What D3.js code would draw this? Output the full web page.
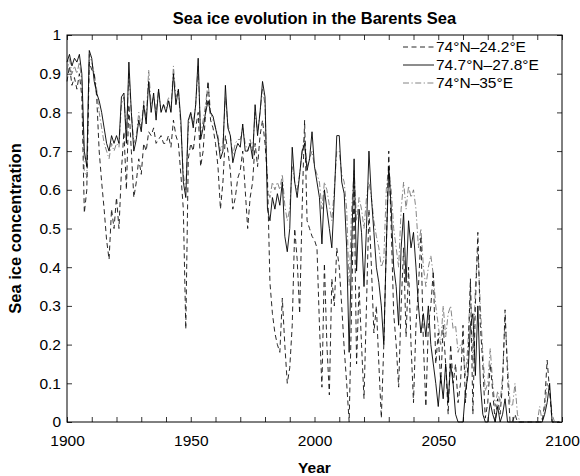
<!DOCTYPE html>
<html>
<head>
<meta charset="utf-8">
<script src="https://cdn.jsdelivr.net/npm/d3@7"></script>
<style>
  body { margin: 0; background: #fff; }
  text { font-family: "Liberation Sans", Arial, sans-serif; fill: #000; }
</style>
</head>
<body>
<div id="chart"></div>
<script>
// yearly values, 1900 .. 2099
const startYear = 1900;

const west = [ // 74°N–24.2°E (dashed)
  0.88, 0.92, 0.87, 0.89, 0.86, 0.90, 0.84, 0.54, 0.60, 0.93,
  0.91, 0.90, 0.84, 0.70, 0.62, 0.55, 0.47, 0.42, 0.55, 0.50,
  0.58, 0.50, 0.65, 0.75, 0.60, 0.82, 0.70, 0.58, 0.62, 0.68,
  0.64, 0.72, 0.70, 0.75, 0.74, 0.76, 0.72, 0.73, 0.74, 0.72,
  0.72, 0.74, 0.71, 0.78, 0.74, 0.72, 0.64, 0.55, 0.24, 0.68,
  0.72, 0.70, 0.76, 0.80, 0.66, 0.70, 0.80, 0.88, 0.78, 0.76,
  0.72, 0.66, 0.55, 0.62, 0.74, 0.70, 0.65, 0.55, 0.58, 0.63,
  0.65, 0.70, 0.60, 0.50, 0.58, 0.62, 0.72, 0.66, 0.74, 0.78,
  0.72, 0.63, 0.36, 0.28, 0.23, 0.20, 0.18, 0.32, 0.20, 0.10,
  0.14, 0.25, 0.50, 0.42, 0.28, 0.55, 0.78, 0.52, 0.50, 0.48,
  0.47, 0.45, 0.25, 0.09, 0.41, 0.20, 0.07, 0.37, 0.30, 0.45,
  0.40, 0.30, 0.19, 0.10, 0.00, 0.30, 0.61, 0.15, 0.35, 0.20,
  0.06, 0.30, 0.55, 0.40, 0.23, 0.30, 0.15, 0.01, 0.20, 0.45,
  0.70, 0.50, 0.28, 0.20, 0.09, 0.30, 0.45, 0.22, 0.40, 0.20,
  0.05, 0.25, 0.35, 0.48, 0.20, 0.04, 0.25, 0.30, 0.39, 0.15,
  0.23, 0.10, 0.25, 0.15, 0.02, 0.20, 0.10, 0.15, 0.05, 0.10,
  0.25, 0.05, 0.15, 0.37, 0.02, 0.30, 0.49, 0.25, 0.15, 0.01,
  0.05, 0.15, 0.08, 0.00, 0.06, 0.02, 0.10, 0.29, 0.12, 0.00,
  0.00, 0.02, 0.00, 0.00, 0.00, 0.00, 0.00, 0.00, 0.00, 0.00,
  0.00, 0.00, 0.00, 0.05, 0.16, 0.08, 0.00, 0.00, 0.00, 0.00
];

const middle = [ // 74.7°N–27.8°E (solid)
  0.93, 0.95, 0.92, 0.94, 0.93, 0.95, 0.90, 0.70, 0.66, 0.96,
  0.94, 0.88, 0.85, 0.83, 0.80, 0.76, 0.72, 0.70, 0.74, 0.72,
  0.74, 0.72, 0.84, 0.85, 0.72, 0.93, 0.80, 0.70, 0.73, 0.78,
  0.75, 0.82, 0.77, 0.88, 0.80, 0.85, 0.78, 0.86, 0.80, 0.82,
  0.80, 0.83, 0.80, 0.90, 0.82, 0.86, 0.78, 0.62, 0.58, 0.78,
  0.80, 0.76, 0.82, 0.94, 0.73, 0.76, 0.80, 0.83, 0.80, 0.79,
  0.76, 0.73, 0.68, 0.70, 0.87, 0.76, 0.74, 0.67, 0.70, 0.72,
  0.71, 0.77, 0.70, 0.70, 0.72, 0.68, 0.82, 0.74, 0.80, 0.88,
  0.84, 0.55, 0.52, 0.58, 0.55, 0.59, 0.56, 0.62, 0.48, 0.44,
  0.50, 0.71, 0.62, 0.58, 0.64, 0.70, 0.72, 0.65, 0.68, 0.75,
  0.66, 0.62, 0.58, 0.46, 0.60, 0.55, 0.50, 0.45, 0.58, 0.74,
  0.74, 0.62, 0.59, 0.45, 0.18, 0.45, 0.68, 0.39, 0.55, 0.49,
  0.35, 0.50, 0.70, 0.58, 0.49, 0.40, 0.36, 0.30, 0.20, 0.45,
  0.66, 0.55, 0.40, 0.35, 0.25, 0.45, 0.54, 0.36, 0.52, 0.45,
  0.49, 0.40, 0.30, 0.23, 0.28, 0.22, 0.30, 0.20, 0.15, 0.10,
  0.04, 0.12, 0.06, 0.15, 0.05, 0.15, 0.10, 0.02, 0.00, 0.00,
  0.00, 0.08, 0.12, 0.25, 0.28, 0.12, 0.30, 0.10, 0.02, 0.00,
  0.00, 0.05, 0.02, 0.00, 0.04, 0.00, 0.02, 0.06, 0.00, 0.00,
  0.00, 0.00, 0.00, 0.00, 0.00, 0.00, 0.00, 0.00, 0.00, 0.00,
  0.00, 0.00, 0.00, 0.02, 0.05, 0.10, 0.00, 0.00, 0.00, 0.00
];

const east = [ // 74°N–35°E (dash-dot)
  0.91, 0.94, 0.90, 0.92, 0.90, 0.93, 0.88, 0.65, 0.63, 0.95,
  0.93, 0.90, 0.86, 0.80, 0.76, 0.72, 0.70, 0.68, 0.72, 0.70,
  0.72, 0.71, 0.82, 0.84, 0.74, 0.90, 0.80, 0.72, 0.74, 0.80,
  0.76, 0.83, 0.78, 0.91, 0.82, 0.84, 0.80, 0.86, 0.80, 0.82,
  0.81, 0.84, 0.80, 0.92, 0.84, 0.86, 0.76, 0.64, 0.60, 0.76,
  0.80, 0.77, 0.82, 0.92, 0.74, 0.78, 0.82, 0.88, 0.80, 0.78,
  0.76, 0.74, 0.70, 0.72, 0.84, 0.77, 0.74, 0.69, 0.72, 0.73,
  0.73, 0.76, 0.72, 0.70, 0.73, 0.70, 0.80, 0.75, 0.80, 0.86,
  0.82, 0.60, 0.58, 0.62, 0.60, 0.62, 0.60, 0.64, 0.56, 0.52,
  0.55, 0.66, 0.62, 0.60, 0.64, 0.70, 0.74, 0.66, 0.68, 0.70,
  0.66, 0.64, 0.62, 0.55, 0.62, 0.60, 0.56, 0.52, 0.60, 0.70,
  0.70, 0.64, 0.62, 0.55, 0.35, 0.55, 0.65, 0.52, 0.58, 0.55,
  0.50, 0.58, 0.62, 0.58, 0.52, 0.48, 0.45, 0.40, 0.42, 0.60,
  0.66, 0.60, 0.50, 0.45, 0.40, 0.55, 0.62, 0.55, 0.61, 0.58,
  0.60, 0.55, 0.45, 0.50, 0.40, 0.35, 0.40, 0.43, 0.38, 0.30,
  0.25, 0.20, 0.30, 0.22, 0.28, 0.30, 0.24, 0.25, 0.18, 0.20,
  0.18, 0.12, 0.20, 0.36, 0.15, 0.35, 0.45, 0.30, 0.18, 0.08,
  0.10, 0.19, 0.10, 0.04, 0.08, 0.05, 0.12, 0.27, 0.15, 0.05,
  0.04, 0.10, 0.02, 0.00, 0.00, 0.00, 0.00, 0.00, 0.00, 0.00,
  0.00, 0.04, 0.00, 0.03, 0.10, 0.08, 0.02, 0.00, 0.00, 0.00
];

const seriesNames = ["74°N–24.2°E", "74.7°N–27.8°E", "74°N–35°E"];
const xTicks = d3.range(1900, 2101, 10);
const xLabels = [1900, 1950, 2000, 2050, 2100];
const yTicks = d3.range(0, 11).map(d => d / 10);

var margin = {top: 35, right: 18, bottom: 54, left: 67},
    width = 580 - margin.left - margin.right,
    height = 476 - margin.top - margin.bottom;

var svg = d3.select("#chart").append("svg")
    .attr("width", 580)
    .attr("height", 476)
    .append("g")
    .attr("transform", "translate(" + margin.left + "," + margin.top + ")");

var xScale = d3.scaleLinear().domain([1900, 2100]).range([0, width]);
var yScale = d3.scaleLinear().domain([0, 1]).range([height, 0]);

const fontSize = "15.5px";

// axes, matlab style: ticks pointing in, box round the plot
var xAxis = d3.axisBottom(xScale)
    .tickValues(xTicks)
    .tickSize(-5)
    .tickPadding(13)
    .tickFormat(d => xLabels.includes(d) ? d : "");

var yAxis = d3.axisLeft(yScale)
    .tickValues(yTicks)
    .tickSize(-5)
    .tickPadding(6)
    .tickFormat(d => d3.format("")(+d.toFixed(1)));

svg.append("g")
    .attr("transform", "translate(0," + height + ")")
    .call(xAxis)
    .call(g => g.selectAll("text").style("font-size", fontSize));

svg.append("g")
    .call(yAxis)
    .call(g => g.selectAll("text").style("font-size", fontSize));

svg.append("g")
    .call(d3.axisTop(xScale).tickValues(xTicks).tickSize(-5).tickFormat(""));

svg.append("g")
    .attr("transform", "translate(" + width + ",0)")
    .call(d3.axisRight(yScale).tickValues(yTicks).tickSize(-5).tickFormat(""));

svg.selectAll(".domain").remove();
svg.selectAll(".tick line").attr("stroke", "#000").attr("stroke-width", 0.8);

svg.append("rect")
    .attr("width", width)
    .attr("height", height)
    .attr("fill", "none")
    .attr("stroke", "#000")
    .attr("stroke-width", 1);

const styles = [
    {data: west, dash: "5,3.5", color: "#111", w: 0.9},
    {data: middle, dash: null, color: "#000", w: 0.9},
    {data: east, dash: "6,2.5,1.2,2.5", color: "#666", w: 0.8}
];

const line = d3.line()
    .x((d, i) => xScale(startYear + i))
    .y(d => yScale(d));

// draw dash-dot first, solid on top
[2, 0, 1].forEach(k => {
    svg.append("path")
        .attr("d", line(styles[k].data))
        .attr("fill", "none")
        .attr("stroke", styles[k].color)
        .attr("stroke-width", styles[k].w)
        .attr("stroke-dasharray", styles[k].dash);
});

// legend, no box
const legend = svg.append("g").attr("transform", "translate(336,12)");
seriesNames.forEach((name, i) => {
    const gy = i * 18;
    legend.append("line")
        .attr("x1", 0).attr("x2", 31)
        .attr("y1", gy).attr("y2", gy)
        .attr("stroke", styles[i].color)
        .attr("stroke-width", styles[i].w)
        .attr("stroke-dasharray", styles[i].dash);
    legend.append("text")
        .attr("x", 33)
        .attr("y", gy)
        .attr("dy", "0.35em")
        .style("font-size", fontSize)
        .text(name);
});

// titles
svg.append("text")
    .attr("x", width / 2)
    .attr("y", -11)
    .attr("text-anchor", "middle")
    .style("font-size", "16.5px")
    .style("font-weight", "bold")
    .text("Sea ice evolution in the Barents Sea");

svg.append("text")
    .attr("x", width / 2)
    .attr("y", height + 51)
    .attr("text-anchor", "middle")
    .style("font-size", fontSize)
    .style("font-weight", "bold")
    .text("Year");

svg.append("text")
    .attr("transform", "rotate(-90)")
    .attr("x", -height / 2)
    .attr("y", -46)
    .attr("text-anchor", "middle")
    .style("font-size", "16.5px")
    .style("font-weight", "bold")
    .text("Sea ice concentration");
</script>
</body>
</html>
